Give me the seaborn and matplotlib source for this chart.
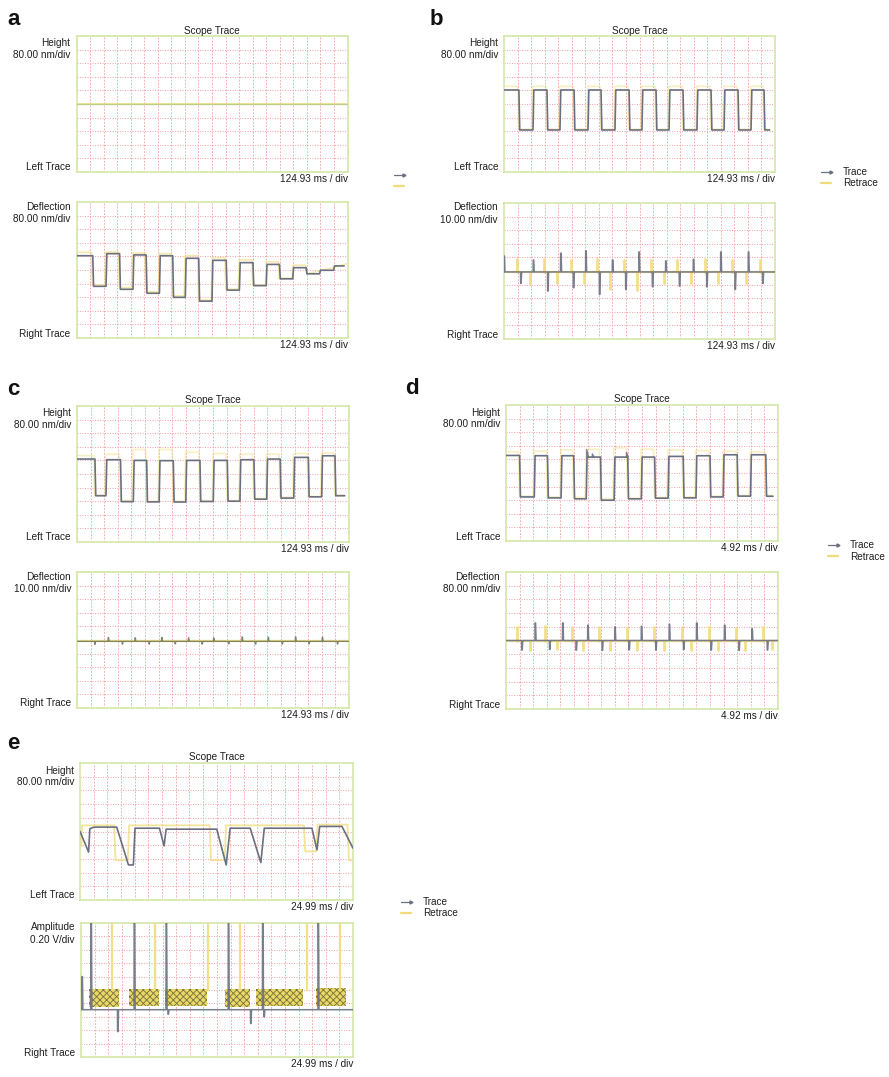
import numpy as np
import matplotlib
matplotlib.use("Agg")
import matplotlib.pyplot as plt
from matplotlib.lines import Line2D
from matplotlib.legend_handler import HandlerLine2D
import seaborn as sns

sns.set_theme(style="white")
plt.rcParams["font.family"] = ["Liberation Sans", "DejaVu Sans"]
plt.rcParams["hatch.linewidth"] = 0.6

# ---------------------------------------------------------------------------
# Scope data, in screen divisions (x: 0..20 div, y: -5..5 div)
# ---------------------------------------------------------------------------

# a: height (flat) and deflection (decaying square wave)
a_height_x = [0.0, 20.0]
a_height_y = [0.0, 0.0]
a_defl_edges = [1.20, 2.18, 3.18, 4.17, 5.14, 6.12, 7.10, 8.03, 9.02, 10.00,
                11.05, 12.02, 13.02, 14.00, 14.98, 15.96, 16.95, 17.94, 18.98]
a_defl_levels = [1.05, -1.20, 1.20, -1.42, 1.11, -1.71, 1.05, -2.01, 0.86, -2.29,
                 0.71, -1.48, 0.54, -1.15, 0.41, -0.65, 0.17, -0.28, -0.02, 0.30]
a_defl_end = 19.75
a_defl_re_edges = [1.10, 2.10, 3.10, 4.10, 5.05, 6.05, 7.00, 7.95, 8.95, 9.95,
                   10.95, 11.95, 12.95, 13.95, 14.90, 15.90]
a_defl_re_levels = [1.30, -1.10, 1.32, -1.30, 1.25, -1.60, 1.20, -1.90, 1.05, -2.20,
                    0.90, -1.40, 0.75, -1.10, 0.60, -0.60, 0.35]
a_defl_re_tail_x = [16.90, 17.00, 18.00, 19.00, 19.90]
a_defl_re_tail_y = [0.35, -0.30, -0.05, 0.20, 0.45]

# b: height square wave, deflection spikes (10 nm/div)
b_height_edges = [1.10, 2.14, 3.17, 4.13, 5.17, 6.20, 7.16, 8.19, 9.23, 10.18,
                  11.22, 12.18, 13.21, 14.24, 15.28, 16.24, 17.27, 18.23, 19.19]
b_height_levels = [1.03, -1.91, 1.03, -1.91, 1.03, -1.91, 1.03, -1.91, 1.03, -1.91,
                   1.03, -1.91, 1.03, -1.91, 1.03, -1.91, 1.03, -1.91, 1.03, -1.91]
b_height_end = 19.60
b_height_re_levels = [1.30, -1.85, 1.30, -1.85, 1.30, -1.85, 1.30, -1.85, 1.30, -1.85,
                      1.30, -1.85, 1.30, -1.85, 1.30, -1.85, 1.30, -1.85, 1.30, -1.85]
b_defl_base = -0.07
b_defl_spike_x = [0.00, 1.23, 2.16, 3.22, 4.18, 5.12, 6.03, 7.04, 8.00, 8.98,
                  9.96, 10.95, 11.93, 12.94, 13.97, 14.96, 15.99, 17.05, 18.03, 19.09]
b_defl_spike_y = [1.10, -0.91, 0.81, -1.48, 1.31, -1.23, 1.48, -1.72, 0.81, -1.35,
                  1.40, -1.16, 0.74, -1.11, 0.86, -1.16, 1.40, -1.35, 1.40, -0.91]
b_defl_re_x = [0.98, 1.92, 2.95, 3.94, 4.92, 5.90, 6.84, 7.82, 8.86, 9.84,
               10.82, 11.83, 12.79, 13.78, 14.83, 15.82, 16.80, 17.86, 18.89]
b_defl_re_y = [0.86, -0.99, 0.86, -0.90, 0.80, -0.90, 0.86, -1.30, 0.80, -1.40,
               0.80, -0.90, 0.80, -0.90, 0.90, -0.90, 0.80, -0.90, 0.80]

# c: height square wave, deflection nearly flat (10 nm/div)
c_height_edges = [1.32, 2.13, 3.20, 4.14, 5.12, 6.04, 7.08, 8.00, 9.04, 10.02,
                  11.05, 11.98, 13.01, 13.95, 14.94, 15.94, 17.01, 17.99, 18.97]
c_height_levels = [1.10, -1.60, 1.05, -2.03, 1.00, -2.05, 0.98, -2.06, 1.00, -2.02,
                   1.00, -2.00, 1.05, -1.85, 1.10, -1.77, 1.22, -1.68, 1.34, -1.60]
c_height_end = 19.68
c_height_re_levels = [1.35, -1.55, 1.45, -1.95, 1.80, -2.00, 1.80, -2.00, 1.60, -1.95,
                      1.50, -1.95, 1.45, -1.80, 1.45, -1.70, 1.50, -1.65, 1.55, -1.55]
c_defl_base = -0.10
c_defl_spike_x = [1.30, 2.29, 3.32, 4.26, 5.29, 6.22, 7.20, 8.19, 9.18, 10.04,
                  11.14, 12.13, 13.11, 14.05, 15.08, 16.06, 17.05, 18.03, 19.14]
c_defl_spike_y = [-0.32, 0.18, -0.30, 0.16, -0.30, 0.18, -0.28, 0.16, -0.30, 0.15,
                  -0.28, 0.22, -0.30, 0.20, -0.30, 0.22, -0.28, 0.20, -0.30]

# d: height square wave (4.92 ms/div), deflection spikes (80 nm/div)
d_height_edges = [1.00, 2.08, 3.05, 4.05, 4.98, 5.90, 6.95, 7.95, 8.95, 9.95,
                  10.93, 11.92, 13.03, 13.97, 15.00, 15.97, 17.00, 17.98, 19.10]
d_height_levels = [1.29, -1.76, 1.27, -1.83, 1.27, -1.90, 1.17, -2.00, 1.17, -1.90,
                   1.17, -1.85, 1.22, -1.83, 1.27, -1.76, 1.34, -1.70, 1.34, -1.71]
d_height_end = 19.63
d_height_re_levels = [1.55, -1.70, 1.60, -1.75, 1.70, -1.80, 1.75, -1.90, 1.85, -1.85,
                      1.75, -1.80, 1.70, -1.75, 1.65, -1.70, 1.60, -1.65, 1.55, -1.65]
# short overshoots riding on the plateaus: (x, plateau, peak)
d_height_glitch_x = [5.94, 6.35, 8.86]
d_height_glitch_base = [1.17, 1.17, 1.17]
d_height_glitch_peak = [1.71, 1.40, 1.51]
d_defl_base = 0.0
d_defl_spike_x = [1.16, 2.14, 3.20, 4.16, 5.15, 6.01, 7.07, 8.00, 9.04, 9.95,
                  11.01, 12.00, 13.05, 14.01, 15.07, 16.06, 17.12, 18.08, 19.21]
d_defl_spike_y = [-0.69, 1.28, -0.65, 1.28, -0.70, 1.11, -0.72, 0.99, -0.68, 1.04,
                  -0.70, 1.19, -0.66, 1.28, -0.70, 1.11, -0.72, 0.86, -0.69]
d_defl_re_x = [0.84, 1.77, 2.88, 3.74, 4.85, 5.67, 6.82, 7.64, 8.92, 9.61,
               10.89, 11.63, 12.93, 13.60, 14.95, 15.57, 16.92, 17.59, 18.89, 19.56]
d_defl_re_y = [0.99, -0.69, 1.05, -0.65, 0.95, -0.70, 1.00, -0.68, 0.90, -0.66,
               1.00, -0.70, 0.95, -0.68, 1.02, -0.66, 0.92, -0.70, 1.00, -0.65]

# e: height (24.99 ms/div) and tapping amplitude (0.20 V/div)
e_height_x = [0.00, 0.63, 0.72, 1.03, 2.69, 3.55, 3.91, 4.03, 5.82, 6.16, 6.31,
              10.02, 10.71, 11.00, 12.47, 13.25, 13.50, 16.99, 17.36, 17.56, 19.19, 20.00]
e_height_y = [0.00, -1.50, 0.20, 0.32, 0.32, -2.44, -2.44, 0.24, 0.24, -1.05, 0.17,
              0.17, -2.44, 0.24, 0.24, -2.27, 0.24, 0.24, -1.34, 0.37, 0.37, -1.22]
e_height_re_x = [0.00, 0.10, 0.15, 2.50, 2.60, 3.50, 3.60, 9.50, 9.60, 10.60, 10.70,
                 16.40, 16.50, 17.30, 17.40, 19.60, 19.70, 20.00]
e_height_re_y = [-0.20, -1.10, 0.45, 0.45, -2.10, -2.10, 0.45, 0.45, -2.10, -2.10, 0.45,
                 0.45, -1.45, -1.45, 0.50, 0.50, -2.10, -2.10]
e_amp_base = -1.47
e_amp_spike_x = [0.07, 0.73, 2.69, 3.91, 6.26, 6.40, 10.83, 12.47, 13.35, 13.45, 17.43]
e_amp_spike_y = [1.00, 5.50, -3.10, 5.50, 5.50, -1.80, 5.50, -2.50, 5.50, -2.00, 5.50]
e_amp_re_x = [2.27, 5.45, 9.36, 11.69, 16.63, 19.07]
e_amp_re_top = [5.50, 5.50, 5.50, 5.50, 5.50, 5.50]
e_burst_start = [0.56, 3.50, 6.19, 10.59, 12.90, 17.31]
e_burst_end = [2.76, 5.70, 9.24, 12.42, 16.33, 19.51]
e_burst_top = [0.10, 0.05, 0.05, 0.10, 0.10, 0.15]
e_burst_bottom = [-1.25, -1.20, -1.20, -1.25, -1.20, -1.20]

# ---------------------------------------------------------------------------
W, H = 889, 1077
fig = plt.figure(figsize=(W / 100, H / 100), dpi=100)
fig.patch.set_facecolor("white")

TRACE = "#6b7080"
RETRACE = "#f1dc7a"
GRID = "#f3a9b0"
FRAME = "#d6e6a8"
TXT = "#1e1e1e"
FS = 7.2


def ax_at(l, t, w, h):
    return fig.add_axes([l / W, 1 - (t + h) / H, w / W, h / H])


def ftext(x, y, s, **kw):
    kw.setdefault("fontsize", FS)
    kw.setdefault("color", TXT)
    fig.text(x / W, 1 - y / H, s, **kw)


def scope_axes(l, t, w, h, name, unit, side, timebase, top_label=False, upper=True):
    ax = ax_at(l, t, w, h)
    ax.set_xlim(0, 20)
    ax.set_ylim(-5, 5)
    ax.set_xticks(np.arange(1, 20))
    ax.set_yticks(np.arange(-4, 5))
    ax.tick_params(length=0, labelbottom=False, labelleft=False)
    ax.grid(True, axis="x", color=GRID, linestyle=(0, (2.0, 1.6)), linewidth=0.65)
    ax.grid(True, axis="y", color=GRID, linestyle=(0, (1.0, 1.4)), linewidth=0.75)
    for sp in ax.spines.values():
        sp.set_color(FRAME)
        sp.set_linewidth(1.2)
    ax.set_facecolor("white")
    d1, d2 = (7.5, 19.0) if upper else (4.5, 17.0)
    ftext(l - 6, t + d1, name, ha="right", va="center")
    ftext(l - 6, t + d2, unit, ha="right", va="center")
    ftext(l - 6, t + h - 4.5, side, ha="right", va="center")
    ftext(l + w, t + h + 7, timebase, ha="right", va="center")
    if top_label:
        ftext(l + w / 2, t - 5.5, "Scope Trace", ha="center", va="center")
    return ax


def line(ax, xs, ys, color, lw, alpha=1.0, z=3):
    sns.lineplot(x=list(xs), y=list(ys), ax=ax, color=color, linewidth=lw, alpha=alpha,
                 sort=False, estimator=None, legend=False, zorder=z)


def square(edges, levels, x_end, w=0.06):
    xs, ys = [0.0], [levels[0]]
    for e, lo, hi in zip(edges, levels[:-1], levels[1:]):
        xs += [e, e + w]
        ys += [lo, hi]
    xs.append(x_end)
    ys.append(levels[-1])
    return xs, ys


def spikes(px, py, base, x_end=20.0, w=0.07):
    xs, ys = [0.0], [base]
    for x, y in zip(px, py):
        xs += [x - 0.01, x, x + w * 0.5, x + w]
        ys += [base, y, y, base]
    xs.append(x_end)
    ys.append(base)
    return xs, ys


def draw_square(ax, edges, levels, end, re_levels=None, re_shift=-0.08):
    if re_levels is not None:
        rx, ry = square([e + re_shift for e in edges], re_levels, end)
        line(ax, rx, ry, RETRACE, 1.2, 0.45, 2)
    tx, ty = square(edges, levels, end)
    line(ax, tx, ty, TRACE, 1.2, 1.0, 3)


def draw_spikes(ax, sx, sy, base, rx, ry, end=20.0):
    for x, y in zip(rx, ry):
        line(ax, [x, x], [base, y], RETRACE, 2.0, 0.9, 2)
    line(ax, [0, end], [base, base], RETRACE, 1.6, 0.8, 2)
    tx, ty = spikes(sx, sy, base, end)
    line(ax, tx, ty, TRACE, 1.1, 0.9, 3)


def panel_letter(x, y, s):
    ftext(x, y, s, fontsize=16, fontweight="bold", ha="left", va="baseline", color="#111111")


# ---- panel a ----
panel_letter(7, 25, "a")
ax = scope_axes(76.5, 36, 271, 136, "Height", "80.00 nm/div", "Left Trace",
                "124.93 ms / div", top_label=True)
line(ax, a_height_x, a_height_y, RETRACE, 1.4, 0.8, 2)
line(ax, a_height_x, a_height_y, "#b9c98a", 0.9, 0.9, 3)
ax = scope_axes(76.5, 202, 271, 136, "Deflection", "80.00 nm/div", "Right Trace",
                "124.93 ms / div", upper=False)
rx, ry = square(a_defl_re_edges, a_defl_re_levels, a_defl_re_tail_x[0])
line(ax, rx + a_defl_re_tail_x[1:], ry + a_defl_re_tail_y[1:], RETRACE, 1.2, 0.6, 2)
tx, ty = square(a_defl_edges, a_defl_levels, a_defl_end)
line(ax, tx, ty, TRACE, 1.2, 1.0, 3)

# ---- panel b ----
panel_letter(430, 25, "b")
ax = scope_axes(504, 36, 271, 136, "Height", "80.00 nm/div", "Left Trace",
                "124.93 ms / div", top_label=True)
draw_square(ax, b_height_edges, b_height_levels, b_height_end, b_height_re_levels)
ax = scope_axes(504, 203, 271, 136, "Deflection", "10.00 nm/div", "Right Trace",
                "124.93 ms / div", upper=False)
draw_spikes(ax, b_defl_spike_x, b_defl_spike_y, b_defl_base, b_defl_re_x, b_defl_re_y)

# ---- panel c ----
panel_letter(7, 395, "c")
ax = scope_axes(77, 406, 272, 136, "Height", "80.00 nm/div", "Left Trace",
                "124.93 ms / div", top_label=True)
draw_square(ax, c_height_edges, c_height_levels, c_height_end, c_height_re_levels)
ax = scope_axes(77, 572, 272, 136, "Deflection", "10.00 nm/div", "Right Trace",
                "124.93 ms / div", upper=False)
line(ax, [0, 20], [c_defl_base, c_defl_base], RETRACE, 1.6, 0.9, 2)
tx, ty = spikes(c_defl_spike_x, c_defl_spike_y, c_defl_base)
line(ax, tx, ty, "#6f7a60", 0.9, 0.9, 3)

# ---- panel d ----
panel_letter(405, 394, "d")
ax = scope_axes(506, 405, 272, 136, "Height", "80.00 nm/div", "Left Trace",
                "4.92 ms / div", top_label=True)
draw_square(ax, d_height_edges, d_height_levels, d_height_end, d_height_re_levels)
for x, b0, pk in zip(d_height_glitch_x, d_height_glitch_base, d_height_glitch_peak):
    line(ax, [x, x, x + 0.12], [b0, pk, b0], TRACE, 1.0, 0.9, 3)
ax = scope_axes(506, 572, 272, 137, "Deflection", "80.00 nm/div", "Right Trace",
                "4.92 ms / div", upper=False)
draw_spikes(ax, d_defl_spike_x, d_defl_spike_y, d_defl_base, d_defl_re_x, d_defl_re_y)

# ---- panel e ----
panel_letter(7, 749, "e")
ax = scope_axes(80, 763, 273, 137, "Height", "80.00 nm/div", "Left Trace",
                "24.99 ms / div", top_label=True)
line(ax, e_height_re_x, e_height_re_y, RETRACE, 1.3, 0.75, 2)
line(ax, e_height_x, e_height_y, TRACE, 1.2, 1.0, 3)
ax = scope_axes(81, 923, 272, 134, "Amplitude", "0.20 V/div", "Right Trace",
                "24.99 ms / div", upper=False)
for x0, x1, y0, y1 in zip(e_burst_start, e_burst_end, e_burst_bottom, e_burst_top):
    ax.fill_between([x0, x1], [y0, y0], [y1, y1], facecolor="#ead865",
                    edgecolor="#77713e", hatch="xxxxx", linewidth=0, zorder=2)
for x, top in zip(e_amp_re_x, e_amp_re_top):
    line(ax, [x, x], [0.0, top], RETRACE, 1.6, 0.9, 2)
tx, ty = spikes(e_amp_spike_x, e_amp_spike_y, e_amp_base)
line(ax, tx, ty, TRACE, 1.1, 0.9, 3)

# ---- legends ----
handles = [
    Line2D([0, 1], [0, 0], color=TRACE, lw=0.9, marker=">", markersize=2.2),
    Line2D([0, 1], [0, 0], color=RETRACE, lw=1.6),
]


def arrow_tip(legline, orig):
    legline.update_from(orig)
    legline.set_markevery([1])


def legend_at(x, y, labels):
    fig.legend(handles, labels, loc="upper left", bbox_to_anchor=(x / W, 1 - y / H),
               frameon=False, fontsize=FS, handlelength=1.6, handletextpad=0.9,
               labelspacing=0.15, borderpad=0, borderaxespad=0, numpoints=2,
               labelcolor=TXT,
               handler_map={handles[0]: HandlerLine2D(numpoints=2, update_func=arrow_tip)})


legend_at(391, 170, ["", ""])
legend_at(818, 167, ["Trace", "Retrace"])
legend_at(825, 540, ["Trace", "Retrace"])
legend_at(398, 897, ["Trace", "Retrace"])

fig.savefig("out.png", dpi=100, facecolor="white")
